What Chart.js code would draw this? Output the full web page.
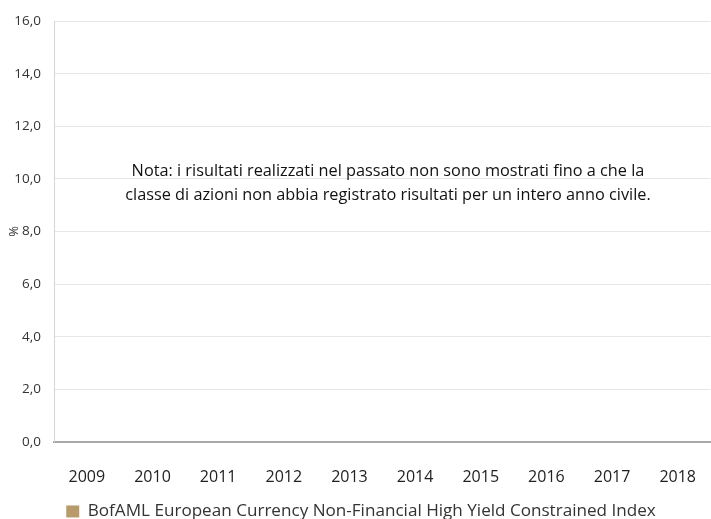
<!DOCTYPE html>
<html><head><meta charset="utf-8">
<script src="https://cdn.jsdelivr.net/npm/chart.js@4/dist/chart.umd.min.js"></script>
<style>html,body{margin:0;padding:0;overflow:hidden;background:#fff;width:711px;height:519px}
#wrap{width:722px;height:530px;position:relative}</style>
</head><body><div id="wrap"><canvas id="c"></canvas></div>
<script>
const categories = ["2009","2010","2011","2012","2013","2014","2015","2016","2017","2018"];
const indexValues = [null,null,null,null,null,null,null,null,null,null];
const seriesName = "BofAML European Currency Non-Financial High Yield Constrained Index";
const yTicks = [0,2,4,6,8,10,12,14,16];
const noteLines = ["Nota: i risultati realizzati nel passato non sono mostrati fino a che la",
                   "classe di azioni non abbia registrato risultati per un intero anno civile."];

const notePlugin = {
  id: 'note',
  afterDraw(chart){
    const ctx = chart.ctx;
    ctx.save();
    ctx.font = '16.3px "Open Sans"';
    ctx.fillStyle = '#111';
    ctx.textAlign = 'center';
    ctx.textBaseline = 'middle';
    const cx = 388;
    const y0 = chart.scales.y.getPixelForValue(10.27);
    const y1 = chart.scales.y.getPixelForValue(9.37);
    ctx.fillText(noteLines[0], cx, y0);
    ctx.fillText(noteLines[1], cx, y1);
    ctx.restore();
  }
};

new Chart(document.getElementById('c'), {
  type: 'bar',
  data: { labels: categories, datasets: [{ label: seriesName, data: indexValues, backgroundColor: '#b99b6b' }] },
  options: {
    responsive: true, maintainAspectRatio: false, animation: false,
    layout: { padding: { top: 14, left: 0, right: 0, bottom: 0 } },
    plugins: {
      tooltip: { enabled: false },
      legend: { position: 'bottom', align: 'center',
        labels: { boxWidth: 13, boxHeight: 12, padding: 3, color: '#333',
          font: { family: '"Open Sans"', size: 17.1 } } }
    },
    scales: {
      x: {
        grid: { display: false, drawTicks: false },
        border: { display: true, color: '#a9a9a9', width: 2 },
        ticks: { color: '#222', padding: 26, font: { family: '"Open Sans"', size: 16 }, maxRotation: 0 },
        afterFit(s){ s.height = 58; }
      },
      y: {
        min: 0, max: 16,
        afterBuildTicks(s){ s.ticks = yTicks.map(v => ({value: v})); },
        grid: { color: '#e6e6e6', drawTicks: false },
        border: { display: true, color: '#d6d6d6', width: 1 },
        ticks: { color: '#333', padding: 13, font: { family: '"Open Sans"', size: 13.5 },
          callback: v => v.toFixed(1).replace('.', ',') },
        title: { display: true, text: '%', color: '#333', font: { family: '"Open Sans"', size: 13 }, padding: {top: 6, bottom: 0} },
        afterFit(s){ s.width = 54; }
      }
    }
  },
  plugins: [notePlugin]
});
</script></body></html>
